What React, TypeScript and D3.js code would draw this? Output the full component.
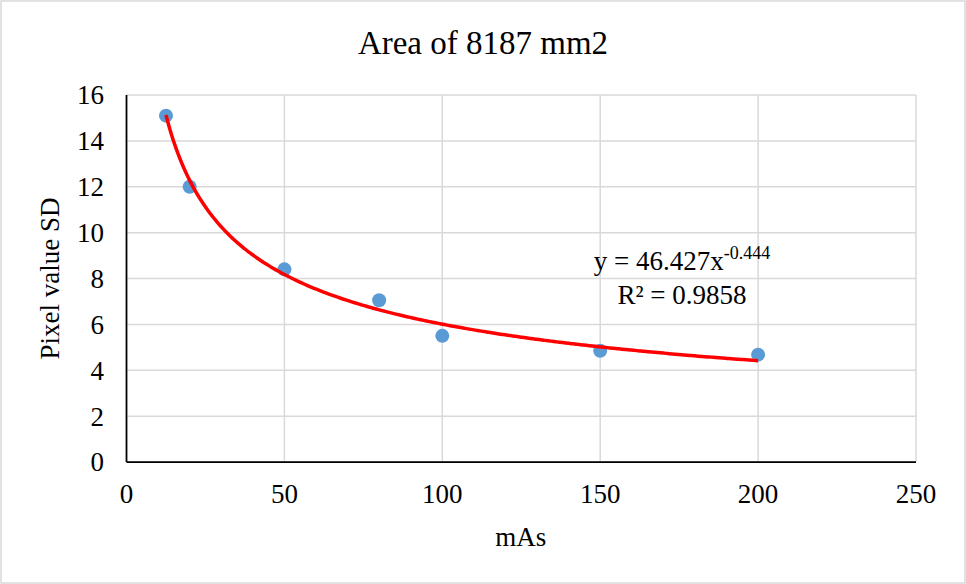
import React from "react";
import * as d3 from "d3";

const mAs = [12.5, 20, 50, 80, 100, 150, 200];
const pixelSD = [15.1, 12.0, 8.4, 7.05, 5.5, 4.85, 4.68];
const xTicks = [0, 50, 100, 150, 200, 250];
const yTicks = [0, 2, 4, 6, 8, 10, 12, 14, 16];
const fitA = 46.427;
const fitB = -0.444;
const fitR2 = "0.9858";
const title = "Area of 8187 mm2";
const xTitle = "mAs";
const yTitle = "Pixel value SD";

const W = 966;
const H = 584;
const FONT = '"Liberation Serif", serif';

export default function App() {
  const x = d3.scaleLinear().domain([0, 250]).range([126.5, 916]);
  const y = d3.scaleLinear().domain([0, 16]).range([462, 95]);

  const xmin = d3.min(mAs) as number;
  const xmax = d3.max(mAs) as number;
  const fitPts: [number, number][] = d3
    .range(0, 201)
    .map((i) => {
      const xv = xmin + ((xmax - xmin) * i) / 200;
      return [xv, fitA * Math.pow(xv, fitB)];
    });
  const line = d3
    .line<[number, number]>()
    .x((d) => x(d[0]))
    .y((d) => y(d[1]))
    .curve(d3.curveMonotoneX);

  const pts = mAs.map((v, i) => ({ x: v, y: pixelSD[i] }));
  const ts: React.CSSProperties = { fontFamily: FONT };

  return (
    <svg
      width={W}
      height={H}
      style={{ position: "absolute", left: 0, top: 0, background: "#fff", fontFamily: FONT }}
    >
      <rect x={1} y={1} width={W - 2} height={H - 2} fill="#fff" stroke="#d9d9d9" strokeWidth={1.5} />
      <text x={483} y={54} textAnchor="middle" fontSize={33} fill="#000" style={ts}>
        {title}
      </text>
      {yTicks.map((t) => (
        <line key={"gy" + t} x1={x(0)} x2={x(250)} y1={y(t)} y2={y(t)} stroke="#d9d9d9" strokeWidth={1.5} />
      ))}
      {xTicks.map((t) => (
        <line key={"gx" + t} x1={x(t)} x2={x(t)} y1={y(0)} y2={y(16)} stroke="#d9d9d9" strokeWidth={1.5} />
      ))}
      <line x1={x(0)} x2={x(0)} y1={y(0)} y2={y(16)} stroke="#000" strokeWidth={1.75} />
      <line x1={x(0)} x2={x(250)} y1={y(0)} y2={y(0)} stroke="#000" strokeWidth={1.75} />
      {yTicks.map((t) => (
        <text key={"ly" + t} x={104} y={y(t)} dy="0.35em" textAnchor="end" fontSize={27} fill="#000" style={ts}>
          {t}
        </text>
      ))}
      {xTicks.map((t) => (
        <text key={"lx" + t} x={x(t)} y={503} textAnchor="middle" fontSize={27} fill="#000" style={ts}>
          {t}
        </text>
      ))}
      <text x={x(125) - 0.5} y={546} textAnchor="middle" fontSize={27} fill="#000" style={ts}>
        {xTitle}
      </text>
      <text
        transform={`translate(59, ${(y(0) + y(16)) / 2}) rotate(-90)`}
        textAnchor="middle"
        fontSize={27}
        fill="#000"
        style={ts}
      >
        {yTitle}
      </text>
      {pts.map((p, i) => (
        <circle key={"p" + i} cx={x(p.x)} cy={y(p.y)} r={7} fill="#5b9bd5" />
      ))}
      <path d={line(fitPts) || ""} fill="none" stroke="#ff0000" strokeWidth={3.5} />
      <text x={682} y={270} textAnchor="middle" fontSize={27} fill="#000" style={ts}>
        {`y = ${fitA}x`}
        <tspan fontSize={18} dy={-11}>{`${fitB}`}</tspan>
      </text>
      <text x={682} y={304} textAnchor="middle" fontSize={27} fill="#000" style={ts}>
        {`R² = ${fitR2}`}
      </text>
    </svg>
  );
}
